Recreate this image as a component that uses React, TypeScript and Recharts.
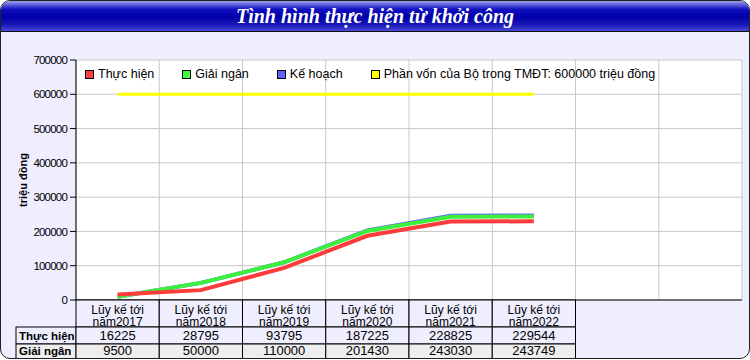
import React from 'react';
import { LineChart, Line, XAxis, YAxis, CartesianGrid } from 'recharts';

// Dữ liệu
const years = ['2017', '2018', '2019', '2020', '2021', '2022'];
const thucHien = [16225, 28795, 93795, 187225, 228825, 229544];
const giaiNgan = [9500, 50000, 110000, 201430, 243030, 243749];
const keHoach = [9500, 50000, 110000, 203000, 246000, 246700];
const phanVon = [600000, 600000, 600000, 600000, 600000, 600000];
const yTicks = [0, 100000, 200000, 300000, 400000, 500000, 600000, 700000];
const xSlots = [0, 1, 2, 3, 4, 5, 6, 7, 8];

const series = [
  { key: 'thucHien', name: 'Thực hiện', color: '#ff3b3b', width: 4 },
  { key: 'giaiNgan', name: 'Giải ngân', color: '#3cf03c', width: 4 },
  { key: 'keHoach', name: 'Kế hoạch', color: '#6464ff', width: 4 },
  { key: 'phanVon', name: 'Phần vốn của Bộ trong TMĐT: 600000 triệu đồng', color: '#ffff00', width: 3 },
];
const legendFill: Record<string, string> = {
  thucHien: '#ff4040',
  giaiNgan: '#40ff40',
  keHoach: '#6060ff',
  phanVon: '#ffff00',
};

// baseline: vị trí chữ trong mỗi hàng của bảng
const tableRows = [
  { label: 'Thực hiện', values: thucHien, fill: '#eeeeff', baseline: 13 },
  { label: 'Giải ngân', values: giaiNgan, fill: '#eeeeee', baseline: 10.5 },
  { label: 'Kế hoạch', values: keHoach, fill: '#eeeeff', baseline: 11 },
];

const data = years.map((y, i) => ({
  x: i + 0.5,
  thucHien: thucHien[i],
  giaiNgan: giaiNgan[i],
  keHoach: keHoach[i],
  phanVon: phanVon[i],
}));

const W = 750;
const H = 360;
const MARGIN = { top: 60, right: 8, left: 16, bottom: 0 };
const Y_AXIS_W = 60;
const X_AXIS_H = 60;
const PLOT_LEFT = MARGIN.left + Y_AXIS_W;
const PLOT_RIGHT = W - MARGIN.right;
const PLOT_BOTTOM = H - MARGIN.bottom - X_AXIS_H;
const SLOT = (PLOT_RIGHT - PLOT_LEFT) / xSlots[xSlots.length - 1];
const BG = '#eeeeff';
const FONT = '"Liberation Sans", Arial, sans-serif';

const HEADER_H = 27;
const ROW_H = 17;

function TableTick(props: any) {
  const { x, payload } = props;
  const k = payload.value;
  if (k >= years.length) return null;
  const top = PLOT_BOTTOM;
  const cx = x + SLOT / 2;
  return (
    <g fontFamily={FONT}>
      <rect x={x} y={top} width={SLOT} height={HEADER_H} fill={BG} stroke="#000" />
      <text x={cx} y={top + 13.5} textAnchor="middle" fontSize={12} fill="#000">Lũy kế tới</text>
      <text x={cx} y={top + 25.5} textAnchor="middle" fontSize={12} fill="#000">{'năm' + years[k]}</text>
      {tableRows.map((r, i) => {
        const ry = top + HEADER_H + i * ROW_H;
        return (
          <g key={r.label}>
            {k === 0 && (
              <>
                <rect x={MARGIN.left} y={ry} width={Y_AXIS_W} height={ROW_H} fill={r.fill} stroke="#000" />
                <text x={MARGIN.left + 3} y={ry + r.baseline} fontSize={11.5} fontWeight="bold" fill="#000">{r.label}</text>
              </>
            )}
            <rect x={x} y={ry} width={SLOT} height={ROW_H} fill={r.fill} stroke="#000" />
            <text x={cx} y={ry + r.baseline} textAnchor="middle" fontSize={13} fill="#000">{r.values[k]}</text>
          </g>
        );
      })}
    </g>
  );
}

function YLabel(props: any) {
  const { viewBox } = props;
  const lx = viewBox.x + 7;
  const ly = viewBox.y + viewBox.height / 2;
  return (
    <text
      x={lx}
      y={ly}
      transform={`rotate(-90, ${lx}, ${ly})`}
      textAnchor="middle"
      dominantBaseline="central"
      fontSize={11}
      fontWeight="bold"
      fontFamily={FONT}
      fill="#000"
    >
      triệu đồng
    </text>
  );
}

function LegendBox() {
  return (
    <div
      style={{
        position: 'absolute',
        left: PLOT_LEFT + 8,
        top: MARGIN.top + 6,
        display: 'flex',
        gap: 28,
        fontFamily: FONT,
        fontSize: 12.5,
        color: '#000',
        whiteSpace: 'nowrap',
      }}
    >
      {series.map((s) => (
        <div key={s.key} style={{ display: 'flex', alignItems: 'center', gap: 4 }}>
          <span
            style={{
              display: 'inline-block',
              width: 7,
              height: 7,
              border: '1px solid #000',
              background: legendFill[s.key],
            }}
          />
          <span>{s.name}</span>
        </div>
      ))}
    </div>
  );
}

export default function App() {
  const drawOrder = ['phanVon', 'keHoach', 'giaiNgan', 'thucHien'];
  return (
    <div
      style={{
        position: 'absolute',
        left: 0,
        top: 0,
        width: W,
        height: H - 1,
        boxSizing: 'border-box',
        border: '1px solid #222',
        borderRadius: 10,
        overflow: 'hidden',
        background: BG,
      }}
    >
      <div style={{ position: 'absolute', left: -1, top: -1 }}>
        <LineChart width={W} height={H} data={data} margin={MARGIN}>
          <CartesianGrid stroke="#c8c8c8" fill="#fff" />
          <XAxis
            type="number"
            dataKey="x"
            domain={[0, 8]}
            ticks={xSlots}
            interval={0}
            height={X_AXIS_H}
            tickLine={false}
            tickSize={0}
            axisLine={{ stroke: '#000' }}
            tick={<TableTick />}
          />
          <XAxis
            xAxisId="top"
            orientation="top"
            type="number"
            domain={[0, 8]}
            height={0}
            tick={false}
            tickLine={false}
            axisLine={{ stroke: '#000' }}
          />
          <YAxis
            domain={[0, 700000]}
            ticks={yTicks}
            width={Y_AXIS_W}
            interval={0}
            tickSize={6}
            tickMargin={3}
            tickLine={{ stroke: '#000' }}
            axisLine={{ stroke: '#000' }}
            tick={{ fontSize: 11.5, fill: '#000', fontFamily: FONT, letterSpacing: -0.8 }}
            label={<YLabel />}
          />
          <YAxis
            yAxisId="r"
            orientation="right"
            domain={[0, 700000]}
            width={0}
            tick={false}
            tickLine={false}
            axisLine={{ stroke: '#000' }}
          />
          {drawOrder.map((key) => {
            const s = series.find((d) => d.key === key)!;
            return (
              <Line
                key={s.key}
                dataKey={s.key}
                name={s.name}
                stroke={s.color}
                strokeWidth={s.width}
                dot={false}
                activeDot={false}
                type="linear"
                isAnimationActive={false}
              />
            );
          })}
        </LineChart>
      </div>
      <LegendBox />
      <div
        style={{
          position: 'absolute',
          left: -1,
          top: -1,
          width: W,
          height: 32,
          boxSizing: 'border-box',
          borderBottom: '1px solid #111',
          background:
            'linear-gradient(to bottom, #b0b0f0 0%, #7070e0 12%, #1010c0 30%, #0000a8 55%, #1a1ab8 80%, #4848d8 100%)',
          color: '#fff',
          fontFamily: '"Liberation Serif", "Times New Roman", serif',
          fontStyle: 'italic',
          fontWeight: 'bold',
          fontSize: 20,
          textAlign: 'center',
          lineHeight: '32px',
        }}
      >
        Tình hình thực hiện từ khởi công
      </div>
    </div>
  );
}
